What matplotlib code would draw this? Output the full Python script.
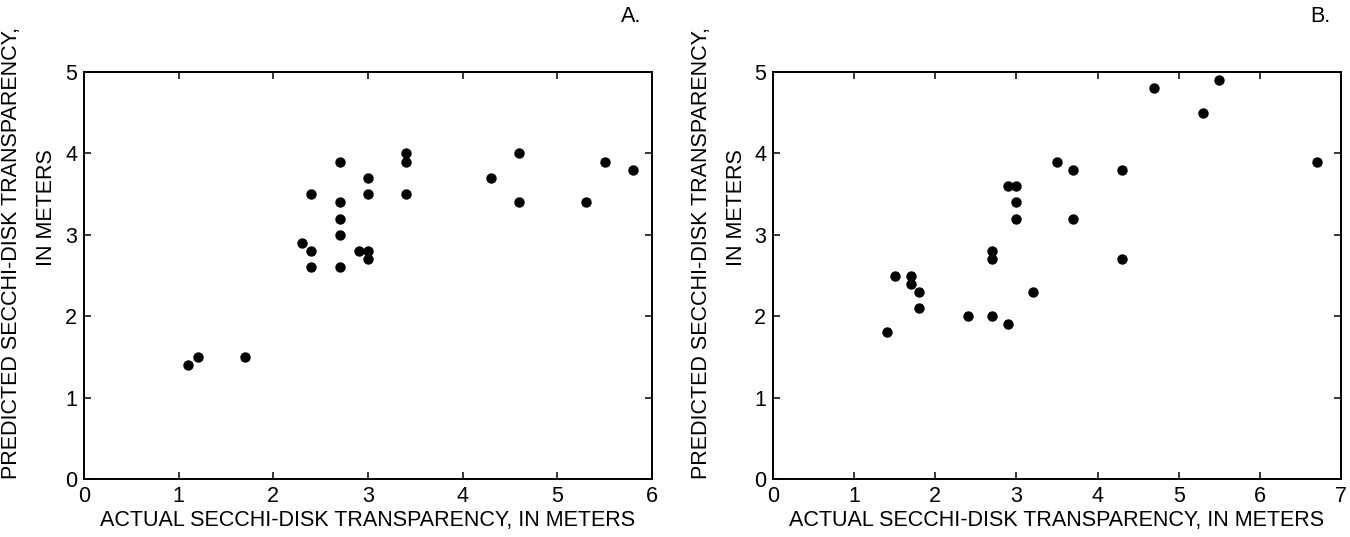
import matplotlib
matplotlib.use("Agg")
import matplotlib.pyplot as plt

plt.rcParams['font.family'] = ['Liberation Sans', 'DejaVu Sans']

# Panel A data
a_actual = [1.1, 1.2, 1.7, 2.3, 2.4, 2.4, 2.4, 2.7, 2.7, 2.7, 2.7, 2.7, 2.9,
            3.0, 3.0, 3.0, 3.0, 3.4, 3.4, 3.4, 4.3, 4.6, 4.6, 5.3, 5.5, 5.8]
a_pred = [1.4, 1.5, 1.5, 2.9, 3.5, 2.8, 2.6, 3.9, 3.4, 3.2, 3.0, 2.6, 2.8,
          3.7, 3.5, 2.8, 2.7, 4.0, 3.9, 3.5, 3.7, 4.0, 3.4, 3.4, 3.9, 3.8]

# Panel B data
b_actual = [1.4, 1.5, 1.7, 1.7, 1.8, 1.8, 2.4, 2.7, 2.7, 2.7, 2.9, 2.9, 3.0,
            3.0, 3.0, 3.2, 3.5, 3.7, 3.7, 4.3, 4.3, 4.7, 5.3, 5.5, 6.7]
b_pred = [1.8, 2.5, 2.5, 2.4, 2.3, 2.1, 2.0, 2.8, 2.7, 2.0, 3.6, 1.9, 3.6,
          3.4, 3.2, 2.3, 3.9, 3.8, 3.2, 3.8, 2.7, 4.8, 4.5, 4.9, 3.9]

a_xticks = [0, 1, 2, 3, 4, 5, 6]
b_xticks = [0, 1, 2, 3, 4, 5, 6, 7]
yticks = [0, 1, 2, 3, 4, 5]

xlabel = "ACTUAL SECCHI-DISK TRANSPARENCY, IN METERS"
ylabel1 = "PREDICTED SECCHI-DISK TRANSPARENCY,"
ylabel2 = "IN METERS"
panel_labels = ["A.", "B."]

W, H = 1350, 537
fig = plt.figure(figsize=(W / 100, H / 100), dpi=100)

FS = 15.5
top_px, bot_px = 72, 479
panels = [
    (84, 652, a_actual, a_pred, a_xticks, panel_labels[0]),
    (773, 1341, b_actual, b_pred, b_xticks, panel_labels[1]),
]

for left_px, right_px, xs, ys, xt, lab in panels:
    ax = fig.add_axes([left_px / W, (H - bot_px) / H,
                       (right_px - left_px) / W, (bot_px - top_px) / H])
    ax.scatter(xs, ys, s=56, color='black', linewidths=0, zorder=3)
    ax.set_xlim(xt[0], xt[-1])
    ax.set_ylim(yticks[0], yticks[-1])
    ax.set_xticks(xt)
    ax.set_yticks(yticks)
    ax.tick_params(direction='in', top=True, right=True, length=5, width=1.1,
                   labelsize=FS, pad=5, colors='black')
    for sp in ax.spines.values():
        sp.set_linewidth(1.4)
    ax.set_xlabel(xlabel, fontsize=FS, labelpad=2)
    # y label two lines
    fig.text((left_px - 72) / W, 1 - 253 / H, ylabel1, rotation=90,
             ha='center', va='center', fontsize=FS)
    fig.text((left_px - 37) / W, 1 - 208 / H, ylabel2, rotation=90,
             ha='center', va='center', fontsize=FS)
    fig.text((right_px - 11) / W, 1 - 17 / H, lab, ha='right', va='center',
             fontsize=FS)

fig.savefig("out.png", dpi=100, facecolor='white')
